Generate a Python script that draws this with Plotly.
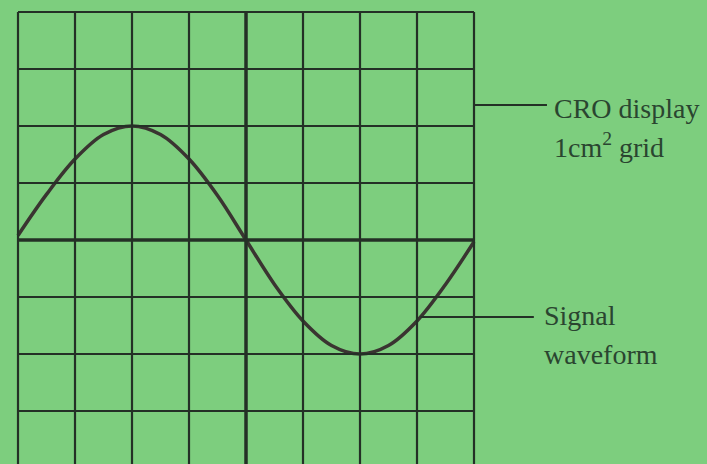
import plotly.graph_objects as go

# grid of the CRO screen, in cm (1 cm squares)
grid_x = [0, 1, 2, 3, 4, 5, 6, 7, 8]
grid_y = [-4, -3, -2, -1, 0, 1, 2, 3, 4]

# signal waveform
wave_x = [0, 0.5, 1, 1.5, 2, 2.5, 3, 3.5, 4, 4.5, 5, 5.5, 6, 6.5, 7, 7.5, 8]
wave_y = [0.08, 0.8, 1.42, 1.85, 2.0, 1.85, 1.42, 0.78, 0, -0.78, -1.42, -1.85, -2.0, -1.85, -1.42, -0.78, -0.03]

# labels with their pointer lines
label_lines = [["CRO display", "1cm<sup>2</sup> grid"], ["Signal", "waveform"]]
pointer_y = [2.37, -1.35]
pointer_x0 = [8, 7.06]
pointer_x1 = [9.28, 9.05]
text_x = [9.37, 9.2]
text_y = [[2.30, 1.65], [-1.33, -2.0]]

bg = "rgb(125,206,126)"
ink = "#243026"
text_col = "#2a4530"

fig = go.Figure()

shapes = []
for gx in grid_x:
    shapes.append(dict(type="line", xref="x", yref="y", x0=gx, x1=gx, y0=grid_y[0], y1=grid_y[-1],
                       line=dict(color=ink, width=3.5 if gx == 4 else 2.2)))
for gy in grid_y:
    shapes.append(dict(type="line", xref="x", yref="y", x0=grid_x[0], x1=grid_x[-1], y0=gy, y1=gy,
                       line=dict(color=ink, width=3.5 if gy == 0 else 2.2)))
for y, a, b in zip(pointer_y, pointer_x0, pointer_x1):
    shapes.append(dict(type="line", xref="x", yref="y", x0=a, x1=b, y0=y, y1=y,
                       line=dict(color=ink, width=2)))

fig.add_trace(go.Scatter(x=wave_x, y=wave_y, mode="lines",
                         line=dict(color="#3a3431", width=3.5, shape="spline", smoothing=1.0),
                         hoverinfo="skip", showlegend=False))

for lines, tx, tys in zip(label_lines, text_x, text_y):
    for txt, ty in zip(lines, tys):
        fig.add_annotation(x=tx, y=ty, xref="x", yref="y", text=txt, showarrow=False,
                           xanchor="left", yanchor="middle", align="left",
                           font=dict(family="Liberation Serif", size=28, color=text_col))

fig.update_layout(width=707, height=464, margin=dict(l=0, r=0, t=0, b=0),
                  paper_bgcolor=bg, plot_bgcolor=bg, shapes=shapes,
                  xaxis=dict(range=[-18 / 57, 689 / 57], visible=False, fixedrange=True),
                  yaxis=dict(range=[-224 / 57, 240 / 57], visible=False, fixedrange=True))

fig.write_html("out.html", config={"displayModeBar": False},
               post_script="document.body.style.margin='0';")
